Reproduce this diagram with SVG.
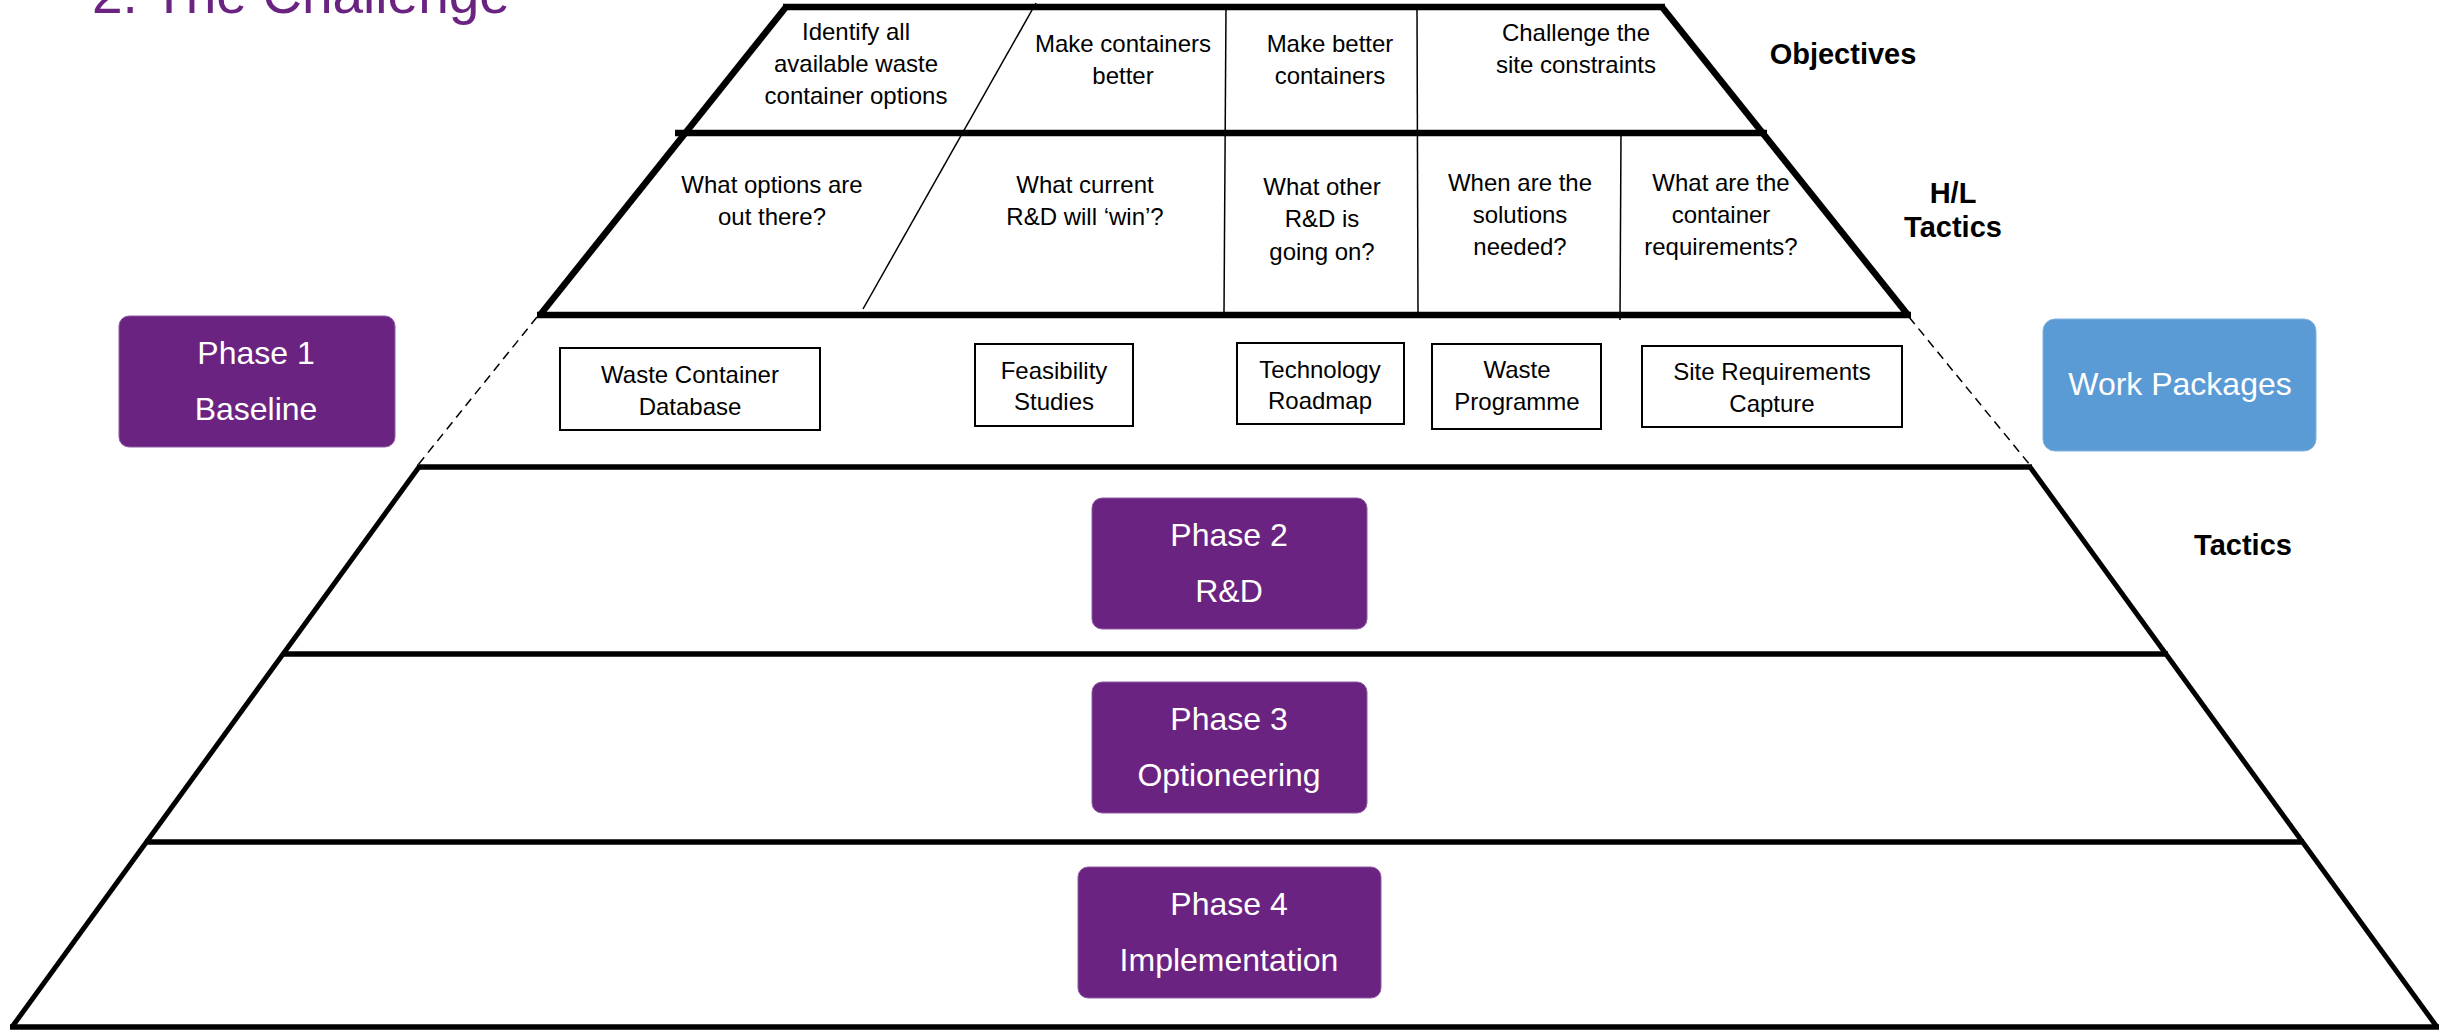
<svg xmlns="http://www.w3.org/2000/svg" width="2450" height="1032" viewBox="0 0 2450 1032">
  <style>
    .t { font-family: "Liberation Sans", Arial, sans-serif; font-size: 24px; fill: #000; text-anchor: middle; }
    .lbl { font-family: "Liberation Sans", Arial, sans-serif; font-size: 29px; font-weight: bold; fill: #000; text-anchor: middle; }
    .ph { font-family: "Liberation Sans", Arial, sans-serif; font-size: 32px; fill: #fff; text-anchor: middle; }
    .title { font-family: "Liberation Sans", Arial, sans-serif; font-size: 55px; fill: #6b2381; }
    .phase { fill: #6b2381; stroke: #8e5ca3; stroke-width: 1; }
    .wpk { fill: #5b9bd5; stroke: #7fb1de; stroke-width: 1; }
    .box { fill: #fff; stroke: #000; stroke-width: 2; }
    .thick { stroke: #000; stroke-width: 6.5; fill: none; }
    .mid { stroke: #000; stroke-width: 5.5; fill: none; }
    .slant { stroke: #000; stroke-width: 5; fill: none; }
    .thin { stroke: #000; stroke-width: 1.5; fill: none; }
    .dash { stroke: #000; stroke-width: 1.5; fill: none; stroke-dasharray: 9 6; }
  </style>

  <rect width="2450" height="1032" fill="#fff"/>

  <!-- heading, partly above the page edge -->
  <text class="title" x="92" y="13">2. The Challenge</text>

  <!-- pyramid outline, row rules and cell dividers -->
  <g id="connectors">
    <!-- upper (objectives / high-level tactics) section -->
    <line class="thick" x1="783" y1="7" x2="1665" y2="7"/>
    <line class="thick" x1="786" y1="7" x2="540" y2="315"/>
    <line class="thick" x1="1662" y1="7" x2="1908" y2="315"/>
    <line class="thick" x1="675" y1="133" x2="1767" y2="133"/>
    <line class="thick" x1="537" y1="315" x2="1911" y2="315"/>

    <line class="thin" x1="1036" y1="3" x2="863" y2="309"/>
    <line class="thin" x1="1226" y1="8" x2="1224" y2="313"/>
    <line class="thin" x1="1417" y1="8" x2="1418" y2="313"/>
    <line class="thin" x1="1621" y1="133" x2="1620" y2="320"/>

    <!-- dashed extension down to the tactics section -->
    <line class="dash" x1="537" y1="317" x2="418" y2="465"/>
    <line class="dash" x1="1909" y1="317" x2="2030" y2="465"/>

    <!-- lower (tactics) section -->
    <line class="slant" x1="419" y1="467" x2="12" y2="1027"/>
    <line class="slant" x1="2030" y1="467" x2="2437" y2="1027"/>
    <line class="mid" x1="417" y1="467" x2="2032" y2="467"/>
    <line class="mid" x1="282" y1="654" x2="2168" y2="654"/>
    <line class="mid" x1="145" y1="842" x2="2304" y2="842"/>
    <line class="mid" x1="10" y1="1027" x2="2439" y2="1027"/>
  </g>

  <!-- objectives row -->
  <g id="obj-identify">
    <text class="t" x="856" y="40">Identify all</text>
    <text class="t" x="856" y="72">available waste</text>
    <text class="t" x="856" y="104">container options</text>
  </g>
  <g id="obj-better-containers">
    <text class="t" x="1123" y="52">Make containers</text>
    <text class="t" x="1123" y="84">better</text>
  </g>
  <g id="obj-make-better">
    <text class="t" x="1330" y="52">Make better</text>
    <text class="t" x="1330" y="84">containers</text>
  </g>
  <g id="obj-site">
    <text class="t" x="1576" y="41">Challenge the</text>
    <text class="t" x="1576" y="73">site constraints</text>
  </g>

  <!-- high-level tactics row -->
  <g id="hl-options">
    <text class="t" x="772" y="193">What options are</text>
    <text class="t" x="772" y="225">out there?</text>
  </g>
  <g id="hl-current">
    <text class="t" x="1085" y="193">What current</text>
    <text class="t" x="1085" y="225">R&amp;D will ‘win’?</text>
  </g>
  <g id="hl-other">
    <text class="t" x="1322" y="195">What other</text>
    <text class="t" x="1322" y="227">R&amp;D is</text>
    <text class="t" x="1322" y="260">going on?</text>
  </g>
  <g id="hl-when">
    <text class="t" x="1520" y="191">When are the</text>
    <text class="t" x="1520" y="223">solutions</text>
    <text class="t" x="1520" y="255">needed?</text>
  </g>
  <g id="hl-requirements">
    <text class="t" x="1721" y="191">What are the</text>
    <text class="t" x="1721" y="223">container</text>
    <text class="t" x="1721" y="255">requirements?</text>
  </g>

  <!-- work package boxes -->
  <g id="wp-database">
    <rect class="box" x="560" y="348" width="260" height="82"/>
    <text class="t" x="690" y="383">Waste Container</text>
    <text class="t" x="690" y="415">Database</text>
  </g>
  <g id="wp-feasibility">
    <rect class="box" x="975" y="344" width="158" height="82"/>
    <text class="t" x="1054" y="379">Feasibility</text>
    <text class="t" x="1054" y="410">Studies</text>
  </g>
  <g id="wp-roadmap">
    <rect class="box" x="1237" y="343" width="167" height="81"/>
    <text class="t" x="1320" y="378">Technology</text>
    <text class="t" x="1320" y="409">Roadmap</text>
  </g>
  <g id="wp-programme">
    <rect class="box" x="1432" y="344" width="169" height="85"/>
    <text class="t" x="1517" y="378">Waste</text>
    <text class="t" x="1517" y="410">Programme</text>
  </g>
  <g id="wp-site">
    <rect class="box" x="1642" y="346" width="260" height="81"/>
    <text class="t" x="1772" y="380">Site Requirements</text>
    <text class="t" x="1772" y="412">Capture</text>
  </g>

  <!-- side labels -->
  <g id="label-objectives">
    <text class="lbl" x="1843" y="64">Objectives</text>
  </g>
  <g id="label-hl-tactics">
    <text class="lbl" x="1953" y="203">H/L</text>
    <text class="lbl" x="1953" y="237">Tactics</text>
  </g>
  <g id="label-tactics">
    <text class="lbl" x="2243" y="555">Tactics</text>
  </g>

  <!-- phases -->
  <g id="phase-1">
    <rect class="phase" x="119" y="316" width="276" height="131" rx="10"/>
    <text class="ph" x="256" y="364">Phase 1</text>
    <text class="ph" x="256" y="420">Baseline</text>
  </g>
  <g id="work-packages">
    <rect class="wpk" x="2043" y="319" width="273" height="132" rx="12"/>
    <text class="ph" x="2180" y="395">Work Packages</text>
  </g>
  <g id="phase-2">
    <rect class="phase" x="1092" y="498" width="275" height="131" rx="10"/>
    <text class="ph" x="1229" y="546">Phase 2</text>
    <text class="ph" x="1229" y="602">R&amp;D</text>
  </g>
  <g id="phase-3">
    <rect class="phase" x="1092" y="682" width="275" height="131" rx="10"/>
    <text class="ph" x="1229" y="730">Phase 3</text>
    <text class="ph" x="1229" y="786">Optioneering</text>
  </g>
  <g id="phase-4">
    <rect class="phase" x="1078" y="867" width="303" height="131" rx="10"/>
    <text class="ph" x="1229" y="915">Phase 4</text>
    <text class="ph" x="1229" y="971">Implementation</text>
  </g>
</svg>
